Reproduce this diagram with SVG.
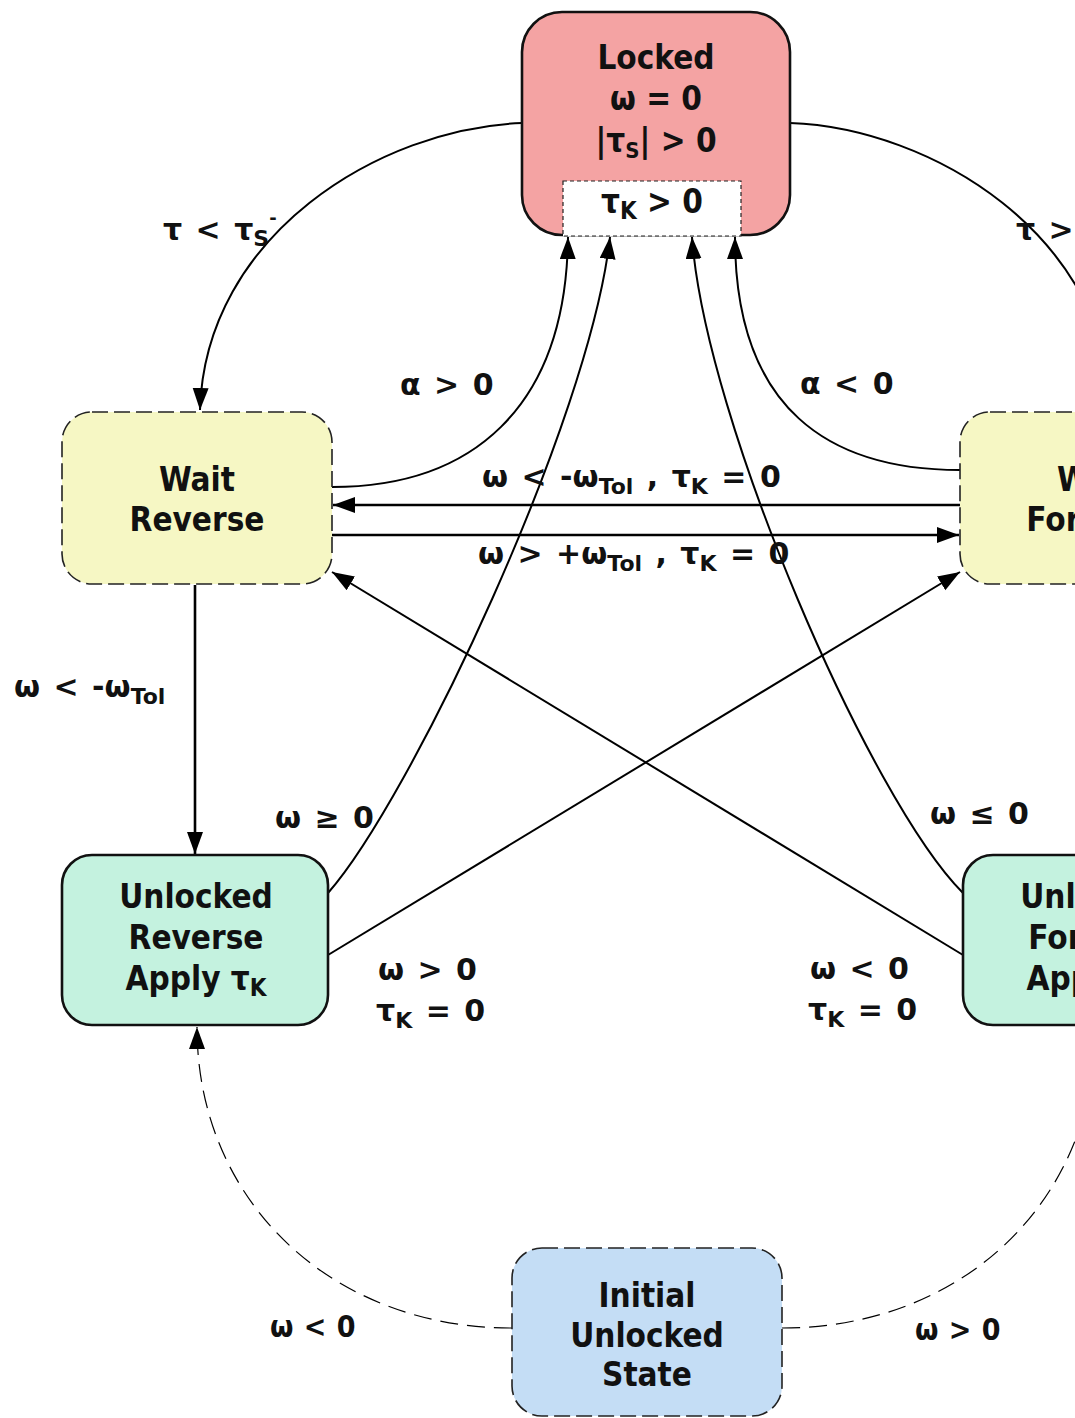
<svg xmlns="http://www.w3.org/2000/svg" width="1075" height="1418" viewBox="0 0 1075 1418">
  <defs>
    <marker id="arrow" markerUnits="userSpaceOnUse" markerWidth="24" markerHeight="18" refX="22" refY="8" orient="auto">
      <path d="M0,0 L22,8 L0,16 Z" fill="#000" stroke="none"/>
    </marker>
    <style>
      .node-solid { stroke: #111; stroke-width: 2.6; }
      .node-dash { stroke: #222; stroke-width: 1.6; stroke-dasharray: 16 6; }
      .locked { fill: #F4A3A3; }
      .wait { fill: #F6F7C4; }
      .unlocked { fill: #C4F2DF; }
      .initial { fill: #C4DDF5; }
      .ntext { font-family: "DejaVu Sans Condensed", "DejaVu Sans", sans-serif; font-stretch: condensed; font-weight: bold; font-size: 33px; fill: #111; text-anchor: middle; }
      .label { font-family: "DejaVu Sans", sans-serif; font-weight: bold; font-size: 30px; fill: #111; word-spacing: 3px; }
      .label-thin { font-family: "DejaVu Sans Condensed", "DejaVu Sans", sans-serif; font-stretch: condensed; font-weight: 600; font-size: 30px; fill: #111; word-spacing: 1px; }
      .sub { font-size: 22px; }
      .edge { fill: none; stroke: #000; stroke-width: 2; }
      .edge-thick { fill: none; stroke: #000; stroke-width: 2.6; }
      .edge-dash { fill: none; stroke: #000; stroke-width: 1.2; stroke-dasharray: 18 9; }
    </style>
  </defs>

  <rect width="1075" height="1418" fill="#fff"/>

  <!-- transitions -->
  <g id="connectors">
    <path class="edge" d="M522,123 C380,128 205,235 200,410" marker-end="url(#arrow)"/>
    <path class="edge" d="M790,123 C932,128 1107,235 1112,410" marker-end="url(#arrow)"/>
    <path class="edge" d="M332,487 C470,487 566,410 568,237" marker-end="url(#arrow)"/>
    <path class="edge" d="M960,470 C830,470 735,410 735,237" marker-end="url(#arrow)"/>
    <path class="edge-thick" d="M960,505 L333,505" marker-end="url(#arrow)"/>
    <path class="edge-thick" d="M332,535 L959,535" marker-end="url(#arrow)"/>
    <path class="edge-thick" d="M195,585 L195,854" marker-end="url(#arrow)"/>
    <path class="edge" d="M328,893 C410,800 590,420 610,237" marker-end="url(#arrow)"/>
    <path class="edge" d="M328,955 L960,572" marker-end="url(#arrow)"/>
    <path class="edge" d="M963,893 C870,800 705,420 692,237" marker-end="url(#arrow)"/>
    <path class="edge" d="M963,955 L332,572" marker-end="url(#arrow)"/>
    <path class="edge-dash" d="M512,1328 C330,1328 197,1200 197,1027" marker-end="url(#arrow)"/>
    <path class="edge-dash" d="M782,1328 C964,1328 1096,1200 1096,1027" marker-end="url(#arrow)"/>
  </g>

  <!-- transition labels -->
  <g id="labels">
    <text class="label" x="163" y="240">τ &lt; τ<tspan class="sub" dy="6">S</tspan><tspan font-size="18" dy="-22">-</tspan></text>
    <text class="label" x="1016" y="240">τ &gt; τ<tspan class="sub" dy="6">S</tspan><tspan font-size="18" dy="-22">+</tspan></text>
    <text class="label" x="400" y="395">α &gt; 0</text>
    <text class="label" x="800" y="394">α &lt; 0</text>
    <text class="label" x="482" y="487">ω &lt; -ω<tspan class="sub" dy="7">Tol</tspan><tspan dy="-7"> , τ</tspan><tspan class="sub" dy="7">K</tspan><tspan dy="-7"> = 0</tspan></text>
    <text class="label" x="478" y="564">ω &gt; +ω<tspan class="sub" dy="7">Tol</tspan><tspan dy="-7"> , τ</tspan><tspan class="sub" dy="7">K</tspan><tspan dy="-7"> = 0</tspan></text>
    <text class="label" x="14" y="697">ω &lt; -ω<tspan class="sub" dy="7">Tol</tspan></text>
    <text class="label" x="275" y="828">ω ≥ 0</text>
    <text class="label" x="930" y="824">ω ≤ 0</text>
    <text class="label" x="378" y="980">ω &gt; 0</text>
    <text class="label" x="376" y="1021">τ<tspan class="sub" dy="7">K</tspan><tspan dy="-7"> = 0</tspan></text>
    <text class="label" x="810" y="979">ω &lt; 0</text>
    <text class="label" x="808" y="1020">τ<tspan class="sub" dy="7">K</tspan><tspan dy="-7"> = 0</tspan></text>
    <text class="label-thin" x="270" y="1337">ω &lt; 0</text>
    <text class="label-thin" x="915" y="1340">ω &gt; 0</text>
  </g>

  <!-- states -->
  <g id="locked">
    <rect class="node-solid locked" x="522" y="12" width="268" height="223" rx="40" ry="40"/>
    <rect x="563" y="181" width="178" height="55" fill="#fff" stroke="#222" stroke-width="1.2" stroke-dasharray="4 3"/>
    <text class="ntext" x="656" y="69">Locked</text>
    <text class="ntext" x="656" y="110">ω = 0</text>
    <text class="ntext" x="656" y="152">|τ<tspan class="sub" font-size="24" dy="6">S</tspan><tspan dy="-6">| &gt; 0</tspan></text>
    <text class="ntext" x="652" y="213">τ<tspan font-size="24" dy="6">K</tspan><tspan dy="-6"> &gt; 0</tspan></text>
  </g>

  <g id="wait-reverse">
    <rect class="node-dash wait" x="62" y="412" width="270" height="172" rx="30" ry="30"/>
    <text class="ntext" x="197" y="491">Wait</text>
    <text class="ntext" x="197" y="531">Reverse</text>
  </g>

  <g id="wait-forward">
    <rect class="node-dash wait" x="960" y="412" width="270" height="172" rx="30" ry="30"/>
    <text class="ntext" x="1095" y="491">Wait</text>
    <text class="ntext" x="1095" y="531">Forward</text>
  </g>

  <g id="unlocked-reverse">
    <rect class="node-solid unlocked" x="62" y="855" width="266" height="170" rx="30" ry="30"/>
    <text class="ntext" x="196" y="908">Unlocked</text>
    <text class="ntext" x="196" y="949">Reverse</text>
    <text class="ntext" x="196" y="990">Apply τ<tspan font-size="24" dy="6">K</tspan></text>
  </g>

  <g id="unlocked-forward">
    <rect class="node-solid unlocked" x="963" y="855" width="266" height="170" rx="30" ry="30"/>
    <text class="ntext" x="1097" y="908">Unlocked</text>
    <text class="ntext" x="1097" y="949">Forward</text>
    <text class="ntext" x="1097" y="990">Apply τ<tspan font-size="24" dy="6">K</tspan></text>
  </g>

  <g id="initial">
    <rect class="node-dash initial" x="512" y="1248" width="270" height="168" rx="30" ry="30"/>
    <text class="ntext" x="647" y="1307">Initial</text>
    <text class="ntext" x="647" y="1347">Unlocked</text>
    <text class="ntext" x="647" y="1386">State</text>
  </g>
</svg>
